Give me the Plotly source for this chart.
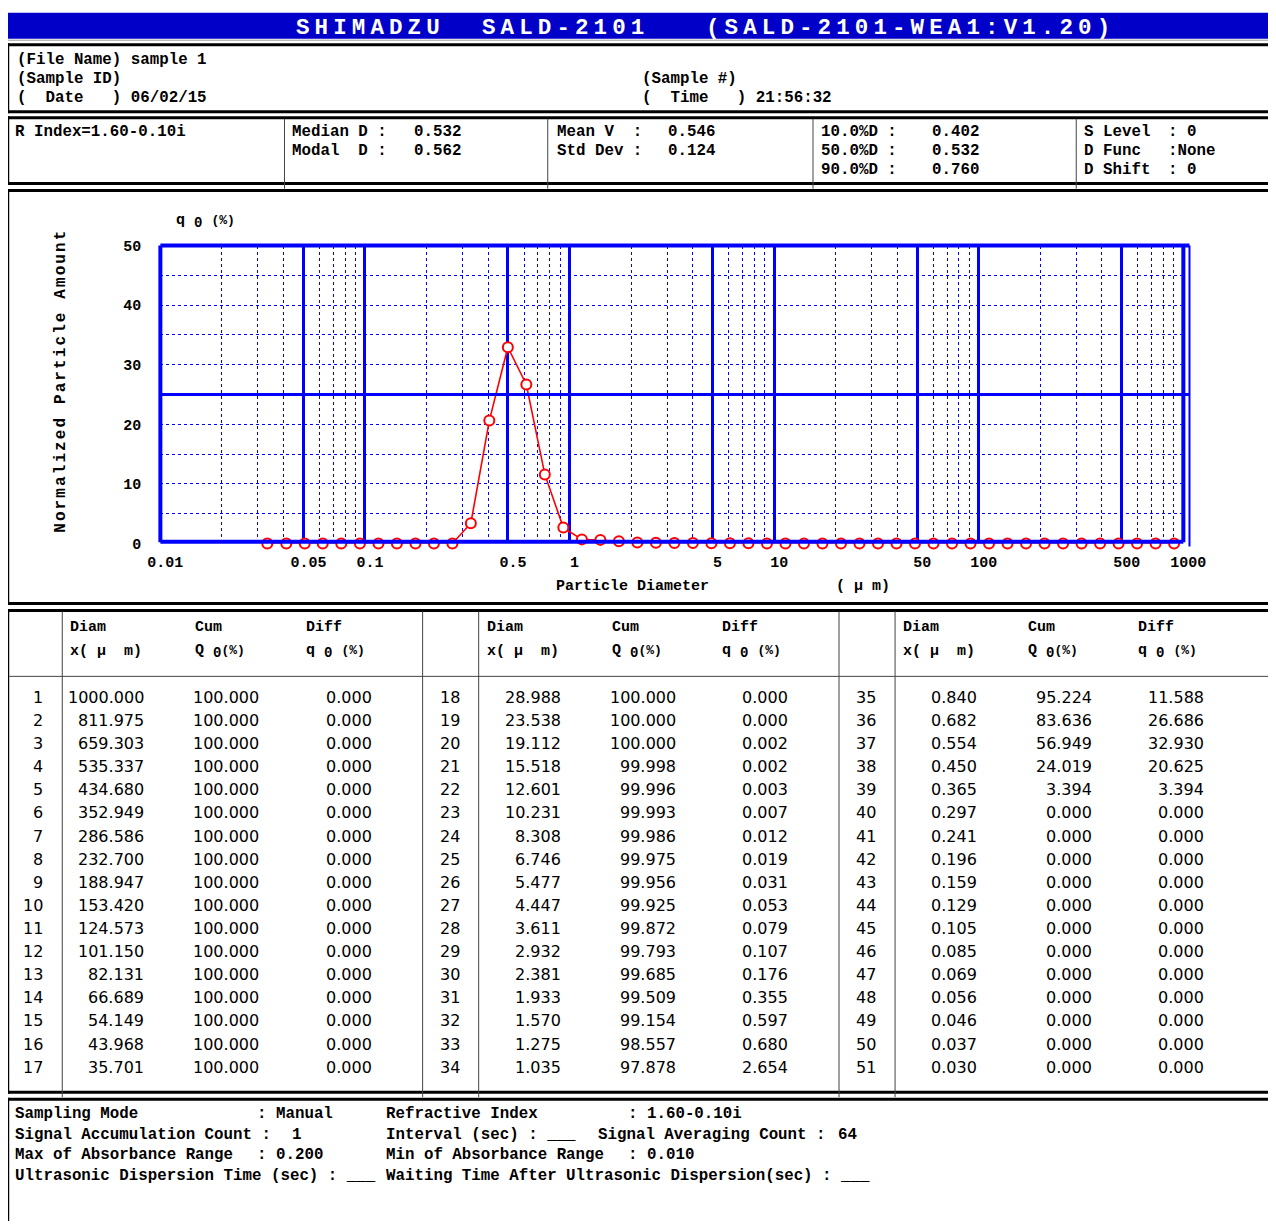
import math
import plotly.graph_objects as go

# ---------------- data ----------------
diam = [1000.000, 811.975, 659.303, 535.337, 434.680, 352.949, 286.586, 232.700, 188.947,
        153.420, 124.573, 101.150, 82.131, 66.689, 54.149, 43.968, 35.701,
        28.988, 23.538, 19.112, 15.518, 12.601, 10.231, 8.308, 6.746, 5.477,
        4.447, 3.611, 2.932, 2.381, 1.933, 1.570, 1.275, 1.035,
        0.840, 0.682, 0.554, 0.450, 0.365, 0.297, 0.241, 0.196, 0.159,
        0.129, 0.105, 0.085, 0.069, 0.056, 0.046, 0.037, 0.030]
cum = [100.000, 100.000, 100.000, 100.000, 100.000, 100.000, 100.000, 100.000, 100.000,
       100.000, 100.000, 100.000, 100.000, 100.000, 100.000, 100.000, 100.000,
       100.000, 100.000, 100.000, 99.998, 99.996, 99.993, 99.986, 99.975, 99.956,
       99.925, 99.872, 99.793, 99.685, 99.509, 99.154, 98.557, 97.878,
       95.224, 83.636, 56.949, 24.019, 3.394, 0.000, 0.000, 0.000, 0.000,
       0.000, 0.000, 0.000, 0.000, 0.000, 0.000, 0.000, 0.000]
diff = [0.000, 0.000, 0.000, 0.000, 0.000, 0.000, 0.000, 0.000, 0.000,
        0.000, 0.000, 0.000, 0.000, 0.000, 0.000, 0.000, 0.000,
        0.000, 0.000, 0.002, 0.002, 0.003, 0.007, 0.012, 0.019, 0.031,
        0.053, 0.079, 0.107, 0.176, 0.355, 0.597, 0.680, 2.654,
        11.588, 26.686, 32.930, 20.625, 3.394, 0.000, 0.000, 0.000, 0.000,
        0.000, 0.000, 0.000, 0.000, 0.000, 0.000, 0.000, 0.000]

x_tickvals = [0.01, 0.05, 0.1, 0.5, 1, 5, 10, 50, 100, 500, 1000]
x_ticktext = ["0.01", "0.05", "0.1", "0.5", "1", "5", "10", "50", "100", "500", "1000"]
x_minor_mult = [2, 3, 4, 6, 7, 8, 9]
x_decades = [0.01, 0.1, 1, 10, 100]
y_tickvals = [0, 10, 20, 30, 40, 50]
y_ticktext = ["0", "10", "20", "30", "40", "50"]
y_minor = [5, 10, 15, 20, 30, 35, 40, 45]

header_info = [("(File Name) sample 1", 18, 59), ("(Sample ID)", 18, 78),
               ("(  Date   ) 06/02/15", 18, 97), ("(Sample #)", 642, 78),
               ("(  Time   ) 21:56:32", 642, 97)]
stats = [("R Index=1.60-0.10i", 16, 131),
         ("Median D :", 293, 131), ("0.532", 414, 131),
         ("Modal  D :", 293, 150), ("0.562", 414, 150),
         ("Mean V  :", 557, 131), ("0.546", 668, 131),
         ("Std Dev :", 557, 150), ("0.124", 668, 150),
         ("10.0%D :", 821, 131), ("0.402", 932, 131),
         ("50.0%D :", 821, 150), ("0.532", 932, 150),
         ("90.0%D :", 821, 169), ("0.760", 932, 169),
         ("S Level", 1084, 131), (": 0", 1168, 131),
         ("D Func", 1084, 150), (":None", 1168, 150),
         ("D Shift", 1084, 169), (": 0", 1168, 169)]
footer = [("Sampling Mode", 16, 1114), (": Manual", 258, 1114),
          ("Refractive Index", 386, 1114), (": 1.60-0.10i", 628, 1114),
          ("Signal Accumulation Count :", 16, 1135), ("1", 293, 1135),
          ("Interval (sec) : ___", 386, 1135), ("Signal Averaging Count :", 598, 1135),
          ("64", 838, 1135),
          ("Max of Absorbance Range", 16, 1155), (": 0.200", 258, 1155),
          ("Min of Absorbance Range", 386, 1155), (": 0.010", 628, 1155),
          ("Ultrasonic Dispersion Time (sec) : ___", 16, 1176),
          ("Waiting Time After Ultrasonic Dispersion(sec) : ___", 386, 1176)]

# ---------------- geometry helpers ----------------
# figure size and the observed mapping from page pixels to picture pixels
W, H = 1260, 1213
OX, OY = 8, 8
AX, SX = 15.0, 0.9705
AY, SY = 6.4, 0.9865


def X(ox):
    return ((ox - AX) / SX - OX) / W


def Y(oy):
    return 1 - ((oy - AY) / SY - OY) / H


MONO = "Liberation Mono"
SANS = "DejaVu Sans"
BLUE = "#0000FF"
NB = "\u00a0"
FT = 15.8

mid_x = [math.sqrt(diam[i] * diam[i + 1]) for i in range(len(diam) - 1)]
mid_q = diff[:-1]
x_minor = [m * d for d in x_decades for m in x_minor_mult]

fig = go.Figure()
fig.add_trace(go.Scatter(
    x=mid_x, y=mid_q, mode="lines+markers", cliponaxis=False,
    line=dict(color="#FF0000", width=1.6),
    marker=dict(symbol="circle", size=10, color="white", line=dict(color="#FF0000", width=2)),
    hoverinfo="x+y", showlegend=False))

annotations = []


def txt(s, px, py, anchor="left", family=MONO, size=FT, weight="bold", color="black",
        angle=0, raw=False):
    annotations.append(dict(
        text=s if raw else s.replace(" ", NB), x=X(px), y=Y(py), xref="paper", yref="paper",
        xanchor=anchor, yanchor="middle", showarrow=False, textangle=angle,
        font=dict(family=family, size=size, color=color, weight=weight), borderpad=0))


for s, px in [("SHIMADZU", 297), ("SALD-2101", 482), ("(SALD-2101-WEA1:V1.20)", 706)]:
    txt('<span style="letter-spacing:5.1px">' + s + '</span>', px, 27, size=22.5,
        color="white", raw=True)

for s, px, py in header_info + stats + footer:
    txt(s, px, py)

annotations.append(dict(
    text='<span style="letter-spacing:2.1px">Normalized' + NB + 'Particle' + NB + 'Amount</span>',
    x=X(62), y=Y(380), xref="paper", yref="paper", xanchor="center", yanchor="middle",
    showarrow=False, textangle=-90,
    font=dict(family=MONO, size=16, color="black", weight="bold")))
PCT = '<span style="font-size:13px">(%)</span>'
SUB0 = '<sub><span style="font-size:14px">0</span></sub>'
txt("q" + NB + SUB0 + NB + PCT, 177, 221, size=15, raw=True)
txt("Particle Diameter", 556, 586, size=15)
txt("( μ m)", 836, 586, size=15)

PANEL = 416
for p in range(3):
    dx = p * PANEL
    txt("Diam", 71 + dx, 627, size=15)
    txt("x( μ  m)", 71 + dx, 651, size=15)
    txt("Cum", 196 + dx, 627, size=15)
    txt("Q" + NB + SUB0 + PCT, 196 + dx, 651, size=15, raw=True)
    txt("Diff", 306 + dx, 627, size=15)
    txt("q" + NB + SUB0 + NB + PCT, 306 + dx, 651, size=15, raw=True)

ROWS = 17
for i in range(len(diam)):
    p, r = divmod(i, ROWS)
    dx = p * PANEL
    py = 697 + r * 23.125
    txt(str(i + 1), 46 + dx, py, anchor="right", family=SANS, size=16, weight="normal")
    txt(f"{diam[i]:.3f}", 147 + dx, py, anchor="right", family=SANS, size=16, weight="normal")
    txt(f"{cum[i]:.3f}", 262 + dx, py, anchor="right", family=SANS, size=16, weight="normal")
    txt(f"{diff[i]:.3f}", 374 + dx, py, anchor="right", family=SANS, size=16, weight="normal")

shapes = []


def line(x0, y0, x1, y1, lw=1, color="#444444"):
    shapes.append(dict(type="line", xref="paper", yref="paper", x0=X(x0), x1=X(x1),
                       y0=Y(y0), y1=Y(y1), line=dict(color=color, width=lw), layer="below"))


# title bar
shapes.append(dict(type="rect", xref="paper", yref="paper", x0=X(8.5), x1=X(1290),
                   y0=Y(38), y1=Y(12), line=dict(width=0), fillcolor="#0000C8", layer="below"))
line(8, 39.5, 1290, 39.5, lw=1, color="#999999")

# boxes: left, top and bottom borders (right side runs off the picture)
LEFT = 9.5
for top, bot in [(44, 111), (117, 183), (190, 603), (610, 1092), (1099, None)]:
    line(LEFT - 1.5, top, 1290, top, lw=3, color="black")
    if bot is not None:
        line(LEFT - 1.5, bot, 1290, bot, lw=3, color="black")
    line(LEFT, top - 1.5, LEFT, (bot + 1.5) if bot else 1240, lw=3, color="black")

for xv in [286, 549, 814, 1077]:
    line(xv, 118, xv, 188)
for xv in [64, 424, 480, 840, 896]:
    line(xv, 611, xv, 1097)
line(11, 676, 1290, 676)

# chart frame
shapes += [
    dict(type="line", xref="x domain", yref="y domain", x0=0, x1=0, y0=0.004, y1=1, line=dict(color=BLUE, width=4)),
    dict(type="line", xref="x domain", yref="y domain", x0=0, x1=1.006, y0=1, y1=1, line=dict(color=BLUE, width=4)),
    dict(type="line", xref="x domain", yref="y domain", x0=0, x1=1, y0=0.006, y1=0.006, line=dict(color=BLUE, width=4)),
    dict(type="line", xref="x domain", yref="y domain", x0=1, x1=1, y0=0.004, y1=1, line=dict(color=BLUE, width=4)),
    dict(type="line", xref="x domain", yref="y domain", x0=1.006, x1=1.006, y0=-0.01, y1=1, line=dict(color=BLUE, width=2)),
    dict(type="line", xref="x domain", yref="y", x0=0, x1=1.006, y0=25, y1=25, line=dict(color=BLUE, width=3)),
]

fig.update_layout(
    width=W, height=H, autosize=False,
    margin=dict(l=0, r=0, t=0, b=0, pad=0),
    paper_bgcolor="white", plot_bgcolor="white",
    showlegend=False,
    annotations=annotations, shapes=shapes,
    xaxis=dict(type="log", range=[-2, 3], domain=[X(162), X(1184)],
               tickmode="array", tickvals=x_tickvals, ticktext=x_ticktext,
               showgrid=True, gridcolor=BLUE, gridwidth=3, zeroline=False, showline=False,
               ticks="", ticklabelshift=5, ticklabelstandoff=8,
               tickfont=dict(family=MONO, size=15, color="black", weight="bold"),
               minor=dict(tickmode="array", tickvals=x_minor, showgrid=True, gridcolor=BLUE,
                          gridwidth=1, griddash="dot", ticks="")),
    yaxis=dict(range=[0, 50], domain=[Y(543), Y(245)],
               tickmode="array", tickvals=y_tickvals, ticktext=y_ticktext,
               showgrid=False, zeroline=False, showline=False, ticks="",
               ticklabelstandoff=18,
               tickfont=dict(family=MONO, size=15, color="black", weight="bold"),
               minor=dict(tickmode="array", tickvals=y_minor, showgrid=True, gridcolor=BLUE,
                          gridwidth=1, griddash="dot", ticks="")),
)

fig.write_html("out.html")
